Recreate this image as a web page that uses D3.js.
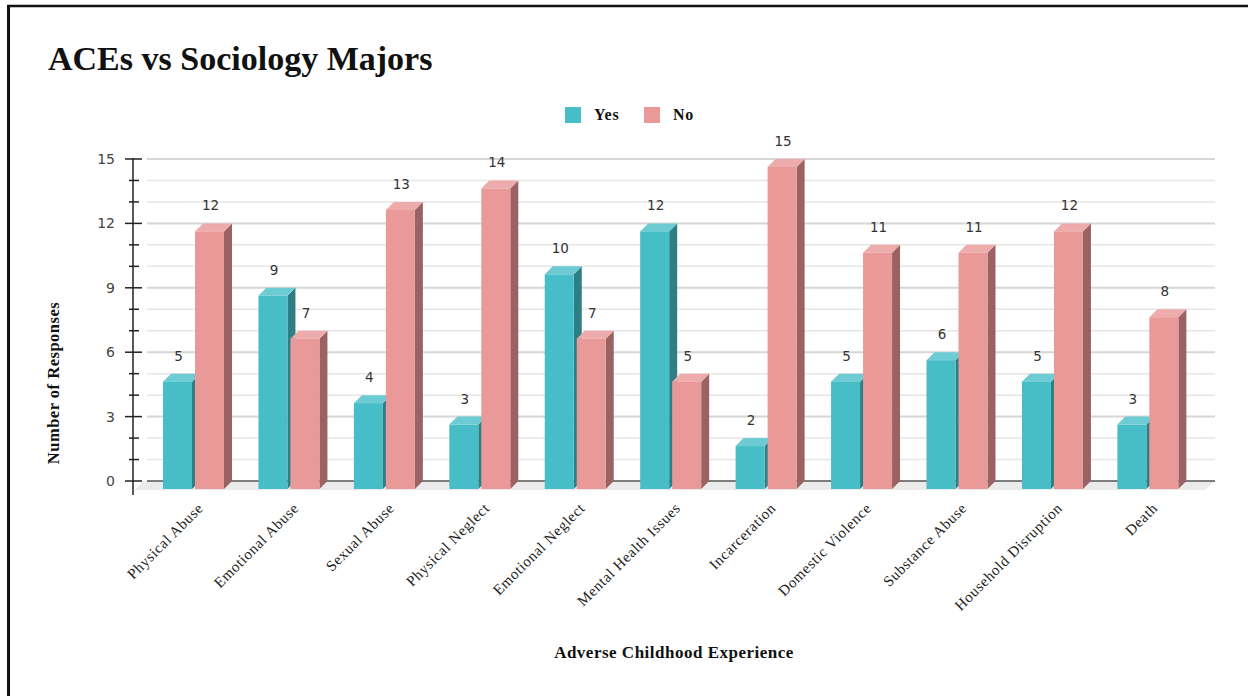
<!DOCTYPE html>
<html>
<head>
<meta charset="utf-8">
<script src="https://cdn.jsdelivr.net/npm/d3@7"></script>
<style>
  html, body { margin: 0; padding: 0; background: #fff; }
  svg { display: block; }
</style>
</head>
<body>
<svg id="chart" width="1248" height="696"></svg>
<script>
// Survey responses: adverse childhood experiences among sociology majors
const categories = [
  "Physical Abuse", "Emotional Abuse", "Sexual Abuse", "Physical Neglect",
  "Emotional Neglect", "Mental Health Issues", "Incarceration",
  "Domestic Violence", "Substance Abuse", "Household Disruption", "Death"
];
const seriesNames = ["Yes", "No"];
const yesValues = [5, 9, 4, 3, 10, 12, 2, 5, 6, 5, 3];
const noValues  = [12, 7, 13, 14, 7, 5, 15, 11, 11, 12, 8];
const yTickValues = [0, 3, 6, 9, 12, 15];

const palette = {
  Yes: { front: "#47bdc7", top: "#6dcbd3", side: "#2e7e85" },
  No:  { front: "#ea9999", top: "#eeabab", side: "#9a6262" }
};

const svg = d3.select("#chart");
const depth = 8;               // 3D extrusion offset (px, up-right)
const axisX = 133;
const gridLeft = 147, gridRight = 1215;
const serif = "Liberation Serif, serif";
const sans = "DejaVu Sans, sans-serif";

const y = d3.scaleLinear().domain([0, 15]).range([481, 159]);
const xGroup = d3.scaleBand().domain(categories).range([145.5, 1195.3]);
const xSub = d3.scaleBand().domain(seriesNames).range([17.5, 81.5]);
const barW = xSub.bandwidth() - 3;

// frame
svg.append("line").attr("x1", 7).attr("x2", 1248).attr("y1", 6).attr("y2", 6)
  .attr("stroke", "#111").attr("stroke-width", 2.5);
svg.append("line").attr("x1", 8.5).attr("x2", 8.5).attr("y1", 5).attr("y2", 696)
  .attr("stroke", "#111").attr("stroke-width", 3);

// title
svg.append("text").attr("x", 48).attr("y", 70)
  .attr("font-family", serif).attr("font-weight", "bold")
  .attr("font-size", 34).attr("fill", "#111")
  .text("ACEs vs Sociology Majors");

// legend
const legend = svg.append("g");
const legendItems = [{ name: "Yes", x: 565 }, { name: "No", x: 644 }];
legendItems.forEach(it => {
  legend.append("rect").attr("x", it.x).attr("y", 107).attr("width", 16).attr("height", 16)
    .attr("fill", palette[it.name].front);
  legend.append("text").attr("x", it.x + 29).attr("y", 120)
    .attr("font-family", serif).attr("font-weight", "bold")
    .attr("font-size", 16).attr("letter-spacing", 0.8).attr("fill", "#111").text(it.name);
});

// floor
svg.append("polygon")
  .attr("points", [[gridLeft - 4, y(0)], [gridRight, y(0)], [gridRight - 10, y(0) + depth + 1], [135, y(0) + depth + 1]].join(" "))
  .attr("fill", "#ebebeb");

// gridlines at every unit, heavier at labelled ticks
const gridVals = d3.range(1, 16);
svg.append("g").selectAll("line").data(gridVals).join("line")
  .attr("x1", gridLeft).attr("x2", gridRight)
  .attr("y1", d => y(d)).attr("y2", d => y(d))
  .attr("stroke", d => d % 3 === 0 ? "#d6d6d6" : "#e6e6e6")
  .attr("stroke-width", d => d % 3 === 0 ? 2 : 1.5);
svg.append("line").attr("x1", gridLeft).attr("x2", gridRight)
  .attr("y1", y(0)).attr("y2", y(0)).attr("stroke", "#555").attr("stroke-width", 1.5);

// y axis with minor ticks
const axisG = svg.append("g").attr("transform", `translate(${axisX},0)`);
axisG.call(d3.axisLeft(y).tickValues(yTickValues).tickSize(0).tickPadding(18))
  .call(g => g.select(".domain").remove())
  .call(g => g.selectAll("text")
    .attr("font-family", sans).attr("font-size", 14).attr("fill", "#444"));
axisG.append("line").attr("x1", 0).attr("x2", 0).attr("y1", y(15) - 1).attr("y2", 495)
  .attr("stroke", "#222").attr("stroke-width", 1.5);
axisG.selectAll("line.tick-mark").data(d3.range(0, 16)).join("line")
  .attr("class", "tick-mark")
  .attr("x1", d => d % 3 === 0 ? -8 : -4).attr("x2", d => d % 3 === 0 ? 9 : 6)
  .attr("y1", d => y(d)).attr("y2", d => y(d))
  .attr("stroke", "#222").attr("stroke-width", 1.5);

// bars with 3D faces
const rows = categories.map((c, i) => ({ cat: c, values: [
  { key: "Yes", value: yesValues[i] }, { key: "No", value: noValues[i] }
]}));

const barsG = svg.append("g");
rows.forEach(row => {
  row.values.forEach(v => {
    const x0 = xGroup(row.cat) + xSub(v.key);
    const yTop = y(v.value) + depth;   // front face top
    const yBot = y(0) + depth;         // front face bottom
    const col = palette[v.key];
    const g = barsG.append("g");
    // side
    g.append("polygon")
      .attr("points", [[x0 + barW, yTop], [x0 + barW + depth, yTop - depth], [x0 + barW + depth, yBot - depth], [x0 + barW, yBot]].join(" "))
      .attr("fill", col.side);
    // top
    g.append("polygon")
      .attr("points", [[x0, yTop], [x0 + depth, yTop - depth], [x0 + barW + depth, yTop - depth], [x0 + barW, yTop]].join(" "))
      .attr("fill", col.top);
    // front
    g.append("rect").attr("x", x0).attr("y", yTop).attr("width", barW).attr("height", yBot - yTop)
      .attr("fill", col.front);
    // value label
    g.append("text").attr("x", x0 + barW / 2 + 1).attr("y", y(v.value) - 13)
      .attr("text-anchor", "middle")
      .attr("font-family", sans).attr("font-size", 13.5).attr("fill", "#333")
      .text(v.value);
  });
});

// category labels, rotated
svg.append("g").selectAll("text").data(categories).join("text")
  .attr("transform", d => `translate(${xGroup(d) + xGroup.bandwidth() / 2 + 11},${509}) rotate(-45)`)
  .attr("text-anchor", "end")
  .attr("font-family", serif).attr("font-size", 15).attr("letter-spacing", 0.6).attr("fill", "#222")
  .text(d => d);

// axis titles
svg.append("text").attr("x", 674).attr("y", 658).attr("text-anchor", "middle")
  .attr("font-family", serif).attr("font-weight", "bold")
  .attr("font-size", 17).attr("letter-spacing", 0.5).attr("fill", "#111").text("Adverse Childhood Experience");
svg.append("text").attr("transform", "translate(59,383) rotate(-90)").attr("text-anchor", "middle")
  .attr("font-family", serif).attr("font-weight", "bold")
  .attr("font-size", 16.5).attr("letter-spacing", 0.5).attr("fill", "#111").text("Number of Responses");
</script>
</body>
</html>
